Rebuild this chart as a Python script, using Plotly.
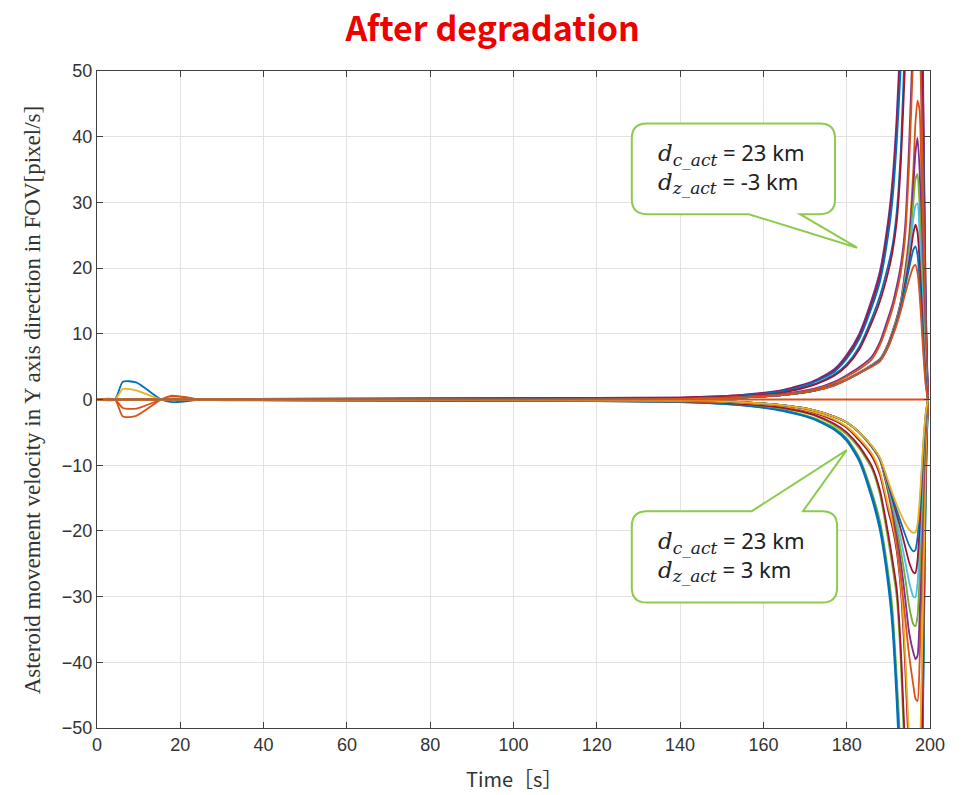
import plotly.graph_objects as go

# ---------------- data ----------------
T_EARLY = [0, 4.3, 6.2, 9.4, 15.4, 18, 21, 25]
BUMP_BLUE = [0, 0, 2.7, 2.6, 0, -0.4, -0.3, 0]
BUMP_YELLOW = [0, 0, 1.6, 1.4, 0, 0.2, 0.1, 0]
BUMP_ORANGE = [0, 0, -1.3, -1.4, 0, 0.5, 0.4, 0]
BUMP_RED = [0, 0, -2.6, -2.5, 0, 0.6, 0.3, 0]

T_LATE = [140, 155, 165, 172, 177, 180, 183, 186, 188,
          190, 191, 192, 193, 194, 195, 196, 196.5, 197, 197.5, 198, 198.5, 199, 199.5]

UA1 = [0.3, 0.7, 1.5, 2.8, 4.6, 6.8, 10.0, 15.2, 19.6, 27.5, 33.5, 43, 57, 75, 95, 115, 120, 115, 95, 68, 40, 14, 0]
UA2 = [0.3, 0.7, 1.4, 2.7, 4.4, 6.5, 9.6, 14.6, 18.8, 26.3, 32, 41, 54, 71, 90, 110, 114, 109, 90, 64, 37, 13, 0]
UA3 = [0.2, 0.6, 1.3, 2.6, 4.2, 6.2, 9.2, 14.0, 18.0, 25.2, 30.5, 39, 51, 67, 86, 104, 108, 103, 85, 60, 35, 12, 0]
UB1 = [0.2, 0.6, 1.2, 2.3, 3.8, 5.4, 8.0, 12.3, 15.8, 20.5, 23.5, 28.5, 38, 55, 72, 90, 96, 92, 78, 56, 32, 11, 0]
UB2 = [0.2, 0.5, 1.1, 2.2, 3.6, 5.1, 7.6, 11.7, 15.0, 19.5, 22.5, 27, 36, 51, 68, 85, 91, 88, 74, 53, 30, 10, 0]
UC1 = [0.1, 0.4, 0.9, 1.6, 2.7, 3.7, 4.9, 6.5, 8.8, 12.5, 14.5, 17.2, 20.5, 26, 39, 57, 65, 67, 59, 45, 27, 9, 0]
UC2 = [0.1, 0.4, 0.8, 1.5, 2.5, 3.5, 4.6, 6.1, 8.3, 11.8, 13.8, 16.3, 19.4, 24.5, 36, 53, 61, 63, 56, 43, 26, 9, 0]
UD1 = [0.1, 0.3, 0.7, 1.3, 2.2, 3.1, 4.1, 5.3, 6.2, 8.6, 10.4, 12.4, 15, 19.5, 25, 35, 42, 45.5, 44, 32, 18, 6, 0]
UD2 = [0.1, 0.3, 0.7, 1.3, 2.2, 3.1, 4.1, 5.2, 6.1, 8.5, 10.3, 12.3, 14.8, 19, 24, 32.5, 37.5, 39.8, 35, 25, 14, 5, 0]
UD3 = [0.1, 0.3, 0.7, 1.3, 2.2, 3.1, 4.1, 5.2, 6.0, 8.4, 10.2, 12.1, 14.6, 18.5, 23, 30, 33.5, 34.3, 29.5, 21, 12, 4, 0]
UD4 = [0.1, 0.3, 0.7, 1.3, 2.2, 3.1, 4.1, 5.2, 6.0, 8.3, 10.1, 12.0, 14.4, 18, 22, 27.5, 29.5, 29.8, 25, 18, 10, 3.5, 0]
UD5 = [0.1, 0.3, 0.7, 1.3, 2.2, 3.0, 4.0, 5.1, 5.9, 8.2, 10.0, 11.8, 14.2, 17.5, 21, 25.3, 26.6, 25.5, 21, 15, 8, 3, 0]
UD6 = [0.1, 0.3, 0.7, 1.3, 2.2, 3.0, 4.0, 5.1, 5.9, 8.1, 9.8, 11.6, 14, 17, 20, 22.8, 23.3, 22, 18, 12.5, 7, 2.5, 0]
UD7 = [0.1, 0.3, 0.7, 1.3, 2.1, 3.0, 4.0, 5.0, 5.8, 8.0, 9.6, 11.4, 13.5, 16, 18.3, 20.2, 20.5, 19.3, 16, 11, 6, 2, 0]

LA1 = [-0.4, -0.9, -1.8, -3.0, -4.6, -6.3, -9.4, -15, -20, -28.5, -35, -46, -60, -78, -98, -115, -118, -112, -92, -66, -38, -13, 0]
LA2 = [-0.4, -0.9, -1.7, -2.9, -4.5, -6.1, -9.1, -14.5, -19.3, -27.5, -33.5, -44, -57, -74, -93, -110, -113, -107, -88, -63, -36, -12, 0]
LA3 = [-0.3, -0.8, -1.6, -2.8, -4.3, -5.9, -8.8, -14, -18.6, -26.5, -32, -42, -54, -70, -88, -104, -107, -101, -83, -59, -34, -11, 0]
LB1 = [-0.3, -0.7, -1.4, -2.4, -3.9, -5.3, -7.4, -10.5, -14.5, -21.5, -25.5, -30, -40, -56, -74, -92, -97, -93, -78, -56, -32, -11, 0]
LB2 = [-0.3, -0.7, -1.3, -2.3, -3.7, -5.0, -7.1, -10.1, -13.9, -20.6, -24.5, -28.8, -38, -53, -70, -88, -93, -89, -75, -54, -31, -10, 0]
LC1 = [-0.2, -0.5, -1.1, -2.0, -3.2, -4.3, -6.2, -8.6, -11.5, -17, -19.5, -23, -29, -40, -55, -68, -72, -70, -60, -44, -26, -9, 0]
LC2 = [-0.2, -0.5, -1.0, -1.9, -3.0, -4.1, -5.9, -8.2, -11, -16.3, -18.8, -22.2, -28, -38, -52, -65, -69, -67, -57, -42, -25, -8, 0]
LD1 = [-0.1, -0.4, -0.9, -1.6, -2.6, -3.5, -5.0, -7.2, -9.2, -14.3, -17.6, -21.8, -27, -33, -39, -43.5, -45.5, -45.9, -40, -27, -14, -4.5, 0]
LD2 = [-0.1, -0.4, -0.9, -1.6, -2.6, -3.5, -5.0, -7.2, -9.2, -14.0, -17.0, -20.5, -24.8, -30, -35.5, -38.5, -39.5, -39, -33, -22, -12, -4, 0]
LD3 = [-0.1, -0.4, -0.9, -1.6, -2.6, -3.5, -5.0, -7.2, -9.2, -13.6, -16.3, -19.5, -23, -27, -31.5, -34.2, -34.5, -33, -27, -18, -9.5, -3, 0]
LD4 = [-0.1, -0.4, -0.9, -1.6, -2.6, -3.5, -5.0, -7.1, -9.1, -13.3, -15.8, -18.5, -21.3, -24.5, -27.8, -30, -30.1, -28, -22.5, -15, -8, -3, 0]
LD5 = [-0.1, -0.4, -0.9, -1.6, -2.6, -3.5, -5.0, -7.1, -9.1, -13.0, -15.2, -17.5, -19.8, -22.3, -24.8, -26.3, -26.4, -24.5, -19.5, -13, -7, -2.5, 0]
LD6 = [-0.1, -0.4, -0.9, -1.6, -2.6, -3.5, -5.0, -7.1, -9.0, -12.8, -14.8, -16.8, -18.7, -20.5, -22.2, -23.1, -22.9, -21, -17, -11.5, -6, -2, 0]
LD7 = [-0.1, -0.4, -0.9, -1.6, -2.6, -3.5, -5.0, -7.0, -8.9, -12.5, -14.3, -16, -17.5, -18.8, -19.8, -20.3, -20.2, -19, -15.5, -10.5, -5.5, -2, 0]

FLAT_T = [0, 199.5]
FLAT_V = [0, 0]

BLUE, ORANGE, YELLOW, PURPLE, GREEN, CYAN, DARKRED = (
    "#0072BD", "#D95319", "#EDB120", "#7E2F8E", "#77AC30", "#4DBEEE", "#A2142F")

# (values, color, early bump or None)
CURVES = [
    (UA1, PURPLE, None), (UA2, DARKRED, None), (UA3, BLUE, None),
    (UB1, BLUE, None), (UB2, DARKRED, None),
    (UC1, PURPLE, None), (UC2, ORANGE, None),
    (UD1, ORANGE, BUMP_RED), (UD2, PURPLE, None), (UD3, GREEN, None), (UD4, CYAN, None),
    (UD5, DARKRED, None), (UD6, BLUE, None), (UD7, ORANGE, BUMP_ORANGE),
    (LA3, GREEN, None), (LA2, BLUE, None), (LA1, BLUE, BUMP_BLUE),
    (LB1, GREEN, None), (LB2, DARKRED, None),
    (LC1, DARKRED, None), (LC2, YELLOW, BUMP_YELLOW),
    (LD1, ORANGE, None), (LD2, PURPLE, None), (LD3, GREEN, None), (LD4, CYAN, None),
    (LD5, DARKRED, None), (LD6, BLUE, None), (LD7, YELLOW, None),
]

fig = go.Figure()
for vals, col, bump in CURVES:
    if bump is None:
        xs = [0] + T_LATE
        ys = [0] + vals
    else:
        xs = T_EARLY + T_LATE
        ys = bump + vals
    fig.add_trace(go.Scatter(x=xs, y=ys, mode="lines",
                             line=dict(color=col, width=1.8, shape="spline", smoothing=0.6),
                             showlegend=False, hoverinfo="skip"))
fig.add_trace(go.Scatter(x=FLAT_T, y=FLAT_V, mode="lines",
                         line=dict(color=ORANGE, width=1.8), showlegend=False))

# ---------------- callouts ----------------
def bubble(x0, x1, y0, y1, rx, ry, tail_pts, tail_on_top):
    a, b, tip = tail_pts
    p = f"M {x0+rx},{y1} "
    if tail_on_top:
        p += f"L {a},{y1} L {tip[0]},{tip[1]} L {b},{y1} "
    p += f"L {x1-rx},{y1} Q {x1},{y1} {x1},{y1-ry} L {x1},{y0+ry} Q {x1},{y0} {x1-rx},{y0} "
    if not tail_on_top:
        p += f"L {b},{y0} L {tip[0]},{tip[1]} L {a},{y0} "
    p += f"L {x0+rx},{y0} Q {x0},{y0} {x0},{y0+ry} L {x0},{y1-ry} Q {x0},{y1} {x0+rx},{y1} Z"
    return p

GREEN_B = "#8CCB4C"
fig.add_shape(type="path", xref="x", yref="y", layer="above",
              path=bubble(128.4, 177.2, 28.2, 42.0, 3.6, 2.3,
                          (156.5, 168.8, (182.5, 23.1)), False),
              fillcolor="white", line=dict(color=GREEN_B, width=2))
fig.add_shape(type="path", xref="x", yref="y", layer="above",
              path=bubble(128.4, 177.7, -30.9, -17.0, 3.6, 2.3,
                          (157.2, 169.5, (180.0, -7.7)), True),
              fillcolor="white", line=dict(color=GREEN_B, width=2))

def dtext(sub, val):
    return (f"<span style='font-family:DejaVu Serif;font-size:23px'><i>d</i></span>"
            f"<sub><span style='font-family:DejaVu Serif;font-size:17px'><i>{sub}</i></span></sub>"
            f" = {val} km")

fig.add_annotation(x=134.2, y=35.3, xref="x", yref="y", xanchor="left", yanchor="middle",
                   align="left", showarrow=False,
                   text=dtext("c_act", "23") + "<br>" + dtext("z_act", "-3"),
                   font=dict(family="Noto Sans", size=22, color="#222"))
fig.add_annotation(x=134.2, y=-23.8, xref="x", yref="y", xanchor="left", yanchor="middle",
                   align="left", showarrow=False,
                   text=dtext("c_act", "23") + "<br>" + dtext("z_act", "3"),
                   font=dict(family="Noto Sans", size=22, color="#222"))

# axis titles
fig.add_annotation(x=-0.077, y=0.5, xref="paper", yref="paper", textangle=-90,
                   showarrow=False, xanchor="center", yanchor="middle",
                   text="Asteroid movement velocity in Y axis direction in FOV[pixel/s]",
                   font=dict(family="Liberation Serif", size=23, color="#333"))
fig.add_annotation(x=0.5, y=-0.077, xref="paper", yref="paper", showarrow=False,
                   xanchor="center", yanchor="middle", text="Time［s］",
                   font=dict(family="Noto Sans CJK JP", size=20, color="#333"))

fig.update_layout(
    width=966, height=795,
    margin=dict(l=97, r=36, t=71, b=67),
    paper_bgcolor="white", plot_bgcolor="white",
    title=dict(text="<b>After degradation</b>", x=0.51, xref="container", xanchor="center",
               y=0.963, yref="container", yanchor="middle",
               font=dict(family="Noto Sans CJK JP", size=34, color="#EE0000")),
    xaxis=dict(range=[0, 200], dtick=20, tick0=0, showgrid=True, gridcolor="#e2e2e2",
               gridwidth=1, zeroline=False, showline=True, linecolor="#404040",
               linewidth=1, mirror="ticks", ticks="inside", ticklen=6, tickcolor="#404040",
               tickfont=dict(family="Liberation Sans", size=18, color="#333")),
    yaxis=dict(range=[-50, 50], dtick=10, tick0=0, showgrid=True, gridcolor="#e2e2e2",
               gridwidth=1, zeroline=False, showline=True, linecolor="#404040",
               linewidth=1, mirror="ticks", ticks="inside", ticklen=6, tickcolor="#404040",
               tickfont=dict(family="Liberation Sans", size=18, color="#333")),
)

fig.write_html("out.html")
